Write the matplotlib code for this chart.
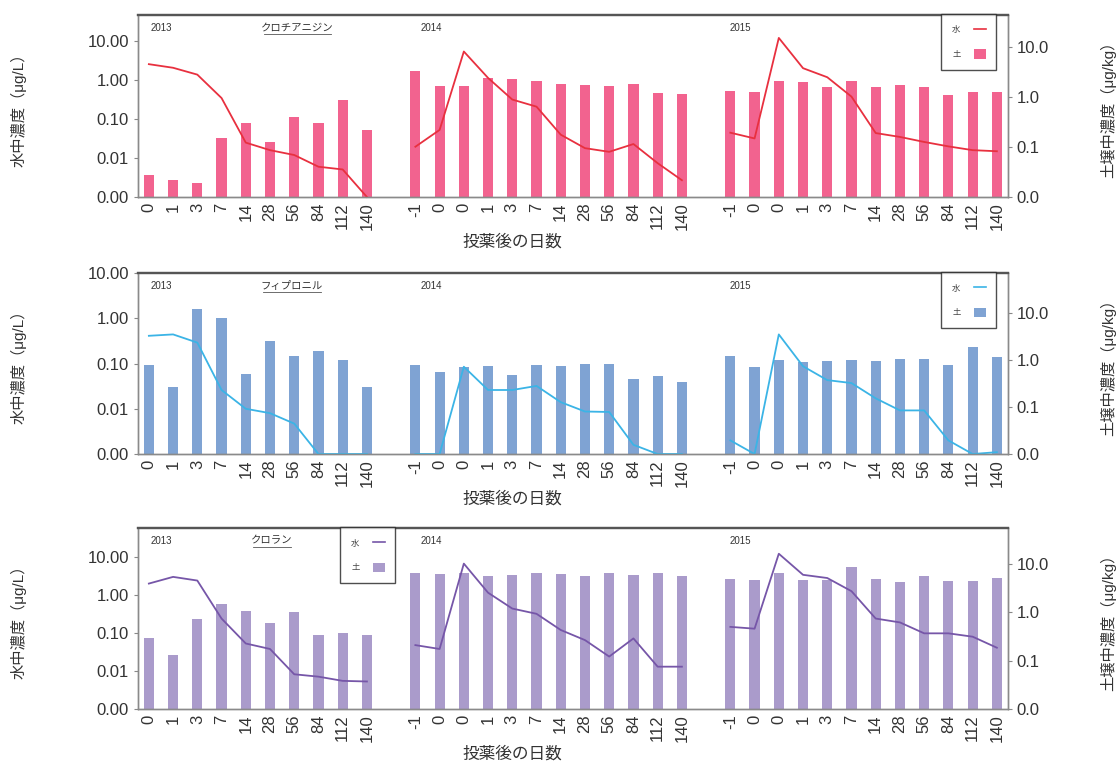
import matplotlib
matplotlib.use("Agg")
import matplotlib.pyplot as plt
from matplotlib.lines import Line2D
from matplotlib.patches import Patch

plt.rcParams['font.family'] = ['Liberation Sans', 'Noto Sans CJK JP', 'DejaVu Sans']

# day labels for each campaign year
days_2013 = ['0', '1', '3', '7', '14', '28', '56', '84', '112', '140']
days_2014 = ['-1', '0', '0', '1', '3', '7', '14', '28', '56', '84', '112', '140']
days_2015 = ['-1', '0', '0', '1', '3', '7', '14', '28', '56', '84', '112', '140']
years = ['2013', '2014', '2015']

# water concentration (ug/L), 0.001 = not detected
cloth_water_2013 = [2.6, 2.1, 1.4, 0.35, 0.025, 0.016, 0.012, 0.006, 0.0051, 0.001]
cloth_water_2014 = [0.0196, 0.053, 5.5, 1.15, 0.32, 0.21, 0.04, 0.018, 0.0145, 0.023, 0.0074, 0.0027]
cloth_water_2015 = [0.045, 0.032, 12.3, 2.05, 1.2, 0.38, 0.044, 0.035, 0.026, 0.020, 0.016, 0.015]
# soil concentration (ug/kg)
cloth_soil_2013 = [0.026, 0.021, 0.018, 0.155, 0.30, 0.126, 0.41, 0.31, 0.89, 0.22]
cloth_soil_2014 = [3.3, 1.66, 1.66, 2.4, 2.3, 2.15, 1.85, 1.77, 1.66, 1.85, 1.22, 1.16]
cloth_soil_2015 = [1.36, 1.3, 2.15, 2.05, 1.6, 2.15, 1.6, 1.77, 1.6, 1.1, 1.3, 1.3]

fip_water_2013 = [0.41, 0.44, 0.29, 0.026, 0.010, 0.008, 0.0047, 0.001, 0.001, 0.001]
fip_water_2014 = [0.001, 0.001, 0.085, 0.026, 0.026, 0.032, 0.014, 0.0087, 0.0085, 0.0016, 0.001, 0.001]
fip_water_2015 = [0.002, 0.001, 0.44, 0.087, 0.043, 0.037, 0.017, 0.0092, 0.0092, 0.002, 0.001, 0.0011]
fip_soil_2013 = [0.79, 0.26, 12.0, 8.0, 0.50, 2.6, 1.23, 1.58, 0.98, 0.26]
fip_soil_2014 = [0.79, 0.55, 0.70, 0.73, 0.47, 0.79, 0.73, 0.83, 0.83, 0.40, 0.45, 0.34]
fip_soil_2015 = [1.23, 0.72, 1.0, 0.89, 0.94, 0.98, 0.94, 1.05, 1.05, 0.79, 1.9, 1.15]

chl_water_2013 = [2.0, 3.0, 2.4, 0.24, 0.053, 0.038, 0.0082, 0.0071, 0.0055, 0.0053]
chl_water_2014 = [0.048, 0.038, 6.7, 1.15, 0.44, 0.32, 0.12, 0.065, 0.024, 0.072, 0.013, 0.013]
chl_water_2015 = [0.145, 0.13, 12.2, 3.4, 2.8, 1.26, 0.24, 0.19, 0.098, 0.098, 0.080, 0.041]
chl_soil_2013 = [0.30, 0.13, 0.73, 1.48, 1.07, 0.59, 1.03, 0.34, 0.37, 0.34]
chl_soil_2014 = [6.4, 6.1, 6.4, 5.7, 5.9, 6.4, 6.1, 5.6, 6.7, 5.9, 6.4, 5.7]
chl_soil_2015 = [4.9, 4.7, 6.4, 4.7, 4.7, 8.8, 4.9, 4.2, 5.7, 4.4, 4.4, 5.2]

panels = [
    dict(name='クロチアニジン', bar='#F2638F', line='#E8303F',
         water=[cloth_water_2013, cloth_water_2014, cloth_water_2015],
         soil=[cloth_soil_2013, cloth_soil_2014, cloth_soil_2015],
         rect=[0.1234, 0.7425, 0.778, 0.238], ltop=48, rtop=45,
         leg=(0.987, 1.005), name_x=0.183),
    dict(name='フィプロニル', bar='#7FA3D3', line='#3BB4E6',
         water=[fip_water_2013, fip_water_2014, fip_water_2015],
         soil=[fip_soil_2013, fip_soil_2014, fip_soil_2015],
         rect=[0.1234, 0.4065, 0.778, 0.2366], ltop=10, rtop=71,
         leg=(0.987, 1.005), name_x=0.177),
    dict(name='クロラン', bar='#AA9BCB', line='#7656A8',
         water=[chl_water_2013, chl_water_2014, chl_water_2015],
         soil=[chl_soil_2013, chl_soil_2014, chl_soil_2015],
         rect=[0.1234, 0.0732, 0.778, 0.2366], ltop=58, rtop=56,
         leg=(0.296, 1.005), name_x=0.154),
]

day_lists = [days_2013, days_2014, days_2015]
starts = [0, 11, 24]
year_x = [0.014, 0.325, 0.68]
tick_col = '#333333'

fig = plt.figure(figsize=(11.18, 7.65), dpi=100)

for p in panels:
    ax = fig.add_axes(p['rect'])
    ax2 = ax.twinx()
    ax.set_zorder(ax2.get_zorder() + 1)
    ax.patch.set_visible(False)

    xticks, xlabels = [], []
    for i in range(3):
        xs = [starts[i] + k for k in range(len(day_lists[i]))]
        ax2.bar(xs, p['soil'][i], width=0.42, color=p['bar'], bottom=1e-3)
        ax.plot(xs, p['water'][i], color=p['line'], lw=1.3, clip_on=False)
        xticks += xs
        xlabels += day_lists[i]

    ax.set_yscale('log')
    ax.set_ylim(0.001, p['ltop'])
    ax.set_yticks([0.001, 0.01, 0.1, 1, 10])
    ax.set_yticklabels(['0.00', '0.01', '0.10', '1.00', '10.00'])
    ax.minorticks_off()
    ax2.set_yscale('log')
    ax2.set_ylim(0.01, p['rtop'])
    ax2.set_yticks([0.01, 0.1, 1, 10])
    ax2.set_yticklabels(['0.0', '0.1', '1.0', '10.0'])
    ax2.minorticks_off()

    ax.set_xlim(-0.45, 35.45)
    ax.set_xticks(xticks)
    ax.set_xticklabels(xlabels, rotation=90)
    ax.tick_params(axis='x', length=0, labelsize=12, pad=4, labelcolor=tick_col)
    ax.tick_params(axis='y', length=3, labelsize=12, color='#888888',
                   labelcolor=tick_col)
    ax2.tick_params(axis='y', length=3, labelsize=12, color='#888888',
                    labelcolor=tick_col)

    for a in (ax, ax2):
        for s in a.spines.values():
            s.set_color('#8a8a8a')
            s.set_linewidth(1.0)
        a.spines['top'].set_color('#555555')
        a.spines['top'].set_linewidth(1.6)

    ax.set_ylabel('水中濃度（μg/L）', fontsize=11, color=tick_col)
    ax.yaxis.set_label_coords(-0.128, 0.5)
    ax2.set_ylabel('土壌中濃度（μg/kg）', fontsize=11, color=tick_col, rotation=90)
    ax2.yaxis.set_label_coords(1.106, 0.5)
    ax.text(0.43, -0.245, '投薬後の日数', transform=ax.transAxes,
            ha='center', va='center', fontsize=12, color=tick_col)

    for i, yr in enumerate(years):
        ax.text(year_x[i], 0.93, yr, transform=ax.transAxes, fontsize=7,
                ha='left', va='center', color='#333333')
    ax.text(p['name_x'], 0.93, p['name'], transform=ax.transAxes,
            fontsize=7.5, ha='center', va='center', color='#333333')
    half = 0.0055 * len(p['name'])
    ax.plot([p['name_x'] - half, p['name_x'] + half], [0.893, 0.893],
            transform=ax.transAxes, color='#555555', lw=0.6, clip_on=False)

    handles = [Line2D([0], [0], color=p['line'], lw=1.2),
               Patch(facecolor=p['bar'])]
    leg = ax.legend(handles, ['水', '土'], loc='upper right',
                    bbox_to_anchor=p['leg'], markerfirst=False, fontsize=6,
                    frameon=True, fancybox=False, handlelength=1.4,
                    handleheight=1.4, borderpad=1.3, labelspacing=1.8,
                    handletextpad=1.6, borderaxespad=0)
    leg.get_frame().set_edgecolor('#222222')
    leg.get_frame().set_linewidth(1.0)
    for t in leg.get_texts():
        t.set_color('#444444')

fig.savefig('out.png', dpi=100)
